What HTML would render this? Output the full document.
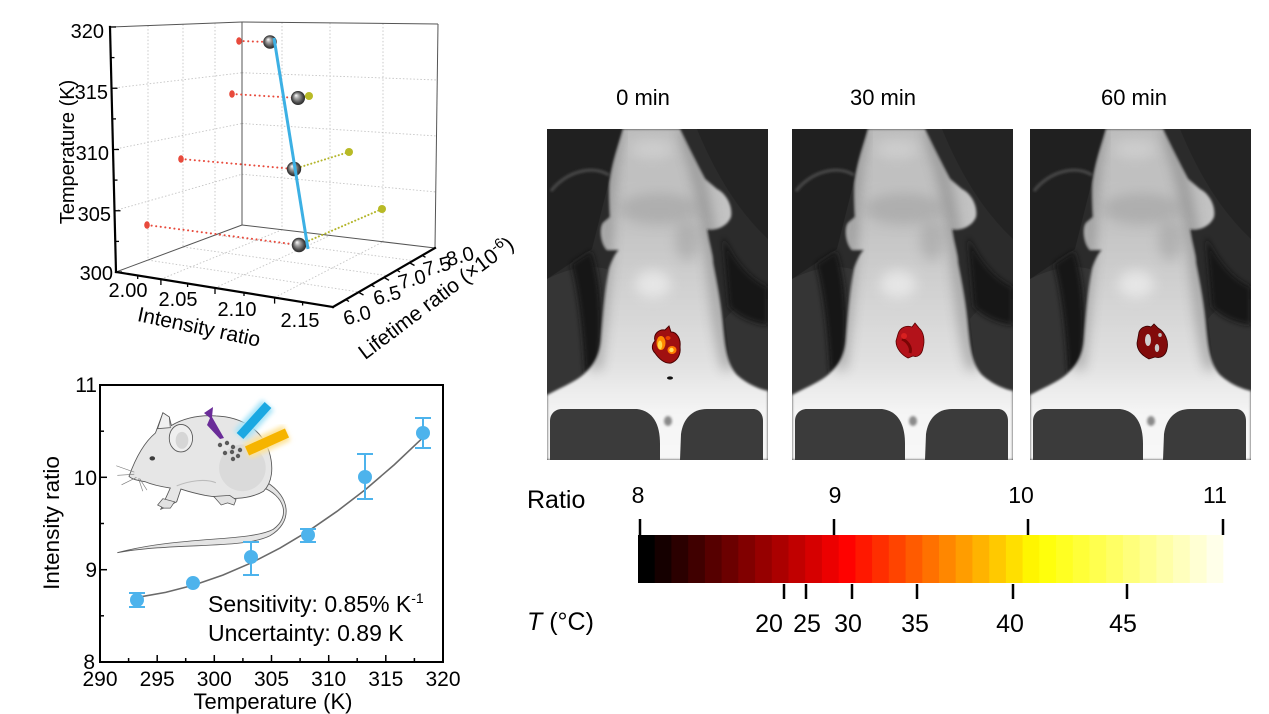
<!DOCTYPE html>
<html><head><meta charset="utf-8">
<style>
html,body{margin:0;padding:0;background:#fff;}
svg{display:block;font-family:"Liberation Sans",Arial,sans-serif;}
</style></head><body>
<svg width="1269" height="714" viewBox="0 0 1269 714" xmlns="http://www.w3.org/2000/svg">
<defs>
 <radialGradient id="sph" cx="0.5" cy="0.5" r="0.5" fx="0.35" fy="0.3">
  <stop offset="0" stop-color="#ffffff"/>
  <stop offset="0.35" stop-color="#a4a4a4"/>
  <stop offset="0.8" stop-color="#474747"/>
  <stop offset="1" stop-color="#2a2a2a"/>
 </radialGradient>
 <linearGradient id="bodyg" x1="0" y1="0" x2="0" y2="1">
  <stop offset="0" stop-color="#bdbdbd"/>
  <stop offset="0.3" stop-color="#c4c4c4"/>
  <stop offset="0.5" stop-color="#d2d2d2"/>
  <stop offset="0.72" stop-color="#e2e2e2"/>
  <stop offset="0.85" stop-color="#f4f4f4"/>
  <stop offset="1" stop-color="#f8f8f8"/>
 </linearGradient>
 <filter id="b1" x="-20%" y="-20%" width="140%" height="140%"><feGaussianBlur stdDeviation="1.3"/></filter>
 <filter id="b3" x="-50%" y="-50%" width="200%" height="200%"><feGaussianBlur stdDeviation="3"/></filter>
 <filter id="b6" x="-50%" y="-50%" width="200%" height="200%"><feGaussianBlur stdDeviation="6"/></filter>
 <filter id="glow" x="-50%" y="-50%" width="200%" height="200%"><feGaussianBlur stdDeviation="2.5"/></filter>
 <clipPath id="pc"><rect x="0" y="0" width="221" height="331"/></clipPath>
 <clipPath id="bodyclip"><path d="M76,0 L133,0 C140,15 150,35 158,50 L170,60 C180,65 186,78 184,88 C180,98 168,102 160,100 C162,115 166,125 166,134 C170,155 174,175 176,200 C178,220 180,235 190,246 C200,255 212,260 221,262 L221,331 L0,331 L0,266 C15,258 30,252 38,244 C48,235 53,225 54,210 C56,185 58,160 62,140 C66,128 70,122 72,121 L60,121 C54,115 52,100 56,94 L63,88 C62,70 62,55 63,51 C66,30 72,15 76,0 Z"/></clipPath>
 <g id="photo" clip-path="url(#pc)">
  <rect x="0" y="0" width="221" height="331" fill="#2b2b2b"/>
  <path d="M0,0 H75 C65,40 55,80 45,120 L0,150 Z" fill="#202020"/>
  <path d="M4,62 C20,42 45,36 62,46" stroke="#4a4a4a" stroke-width="3" fill="none" filter="url(#b1)"/>
  <path d="M150,0 H221 V110 C200,90 175,60 150,0 Z" fill="#232323"/>
  <path d="M0,150 C20,140 40,135 60,140 L55,250 L0,270 Z" fill="#353535"/>
  <path d="M221,170 C200,170 185,180 178,190 L185,250 L221,262 Z" fill="#333"/>
  <path d="M44,122 C54,150 56,190 52,238 L38,246 C36,205 32,165 24,135 Z" fill="#161616" filter="url(#b3)"/>
  <path d="M176,108 C188,132 202,150 221,158 V196 C205,194 192,188 182,178 Z" fill="#181818" filter="url(#b3)"/>
  <g filter="url(#b1)">
   <path d="M76,0 L133,0 C140,15 150,35 158,50 L170,60 C180,65 186,78 184,88 C180,98 168,102 160,100 C162,115 166,125 166,134 C170,155 174,175 176,200 C178,220 180,235 190,246 C200,255 212,260 221,262 L221,331 L0,331 L0,266 C15,258 30,252 38,244 C48,235 53,225 54,210 C56,185 58,160 62,140 C66,128 70,122 72,121 L60,121 C54,115 52,100 56,94 L63,88 C62,70 62,55 63,51 C66,30 72,15 76,0 Z" fill="url(#bodyg)"/>
  </g>
  <g clip-path="url(#bodyclip)">
   <path d="M70,0 C62,40 60,90 58,130 C55,170 52,210 48,240" stroke="#666" stroke-width="12" fill="none" opacity="0.45" filter="url(#b6)"/>
   <path d="M138,0 C150,40 162,90 166,134 C170,175 174,215 182,240" stroke="#666" stroke-width="12" fill="none" opacity="0.45" filter="url(#b6)"/>
  </g>
  <ellipse cx="112" cy="80" rx="40" ry="16" fill="#8a8a8a" opacity="0.35" filter="url(#b6)"/>
  <ellipse cx="140" cy="112" rx="12" ry="20" fill="#808080" opacity="0.3" filter="url(#b6)"/>
  <ellipse cx="105" cy="20" rx="22" ry="10" fill="#dcdcdc" opacity="0.5" filter="url(#b6)"/>
  <ellipse cx="106" cy="155" rx="18" ry="14" fill="#f4f4f4" opacity="0.6" filter="url(#b6)"/>
  <path d="M3,331 L3,292 C3,285 8,280 15,280 L90,280 C106,282 113,295 113,315 L113,331 Z" fill="#3b3b3b"/>
  <path d="M133,331 L134,305 C136,290 145,280 160,280 L206,280 C212,280 216,285 216,292 L216,331 Z" fill="#3b3b3b"/>
  <ellipse cx="121" cy="292" rx="4" ry="5" fill="#8a8a8a" filter="url(#b1)"/>
 </g>
</defs>

<!-- ================= 3D PLOT ================= -->
<g fill="none" stroke="#c4c4c4" stroke-width="0.9" stroke-dasharray="1.5 2">
 <line x1="148" y1="25.6" x2="148" y2="260"/>
 <line x1="183" y1="24.2" x2="183" y2="247"/>
 <line x1="215" y1="23" x2="215" y2="235"/>
 <line x1="114.5" y1="210.75" x2="242" y2="174.25"/>
 <line x1="113" y1="149.5" x2="242" y2="123.5"/>
 <line x1="111.5" y1="88.25" x2="242" y2="72.75"/>
 <line x1="282" y1="22.4" x2="282" y2="229.8"/>
 <line x1="330" y1="22.9" x2="330" y2="235.5"/>
 <line x1="383" y1="23.4" x2="383" y2="241.8"/>
 <line x1="242" y1="174.25" x2="436.5" y2="192"/>
 <line x1="242" y1="123.5" x2="437" y2="136"/>
 <line x1="242" y1="72.75" x2="437.5" y2="80"/>
 <line x1="148" y1="260.1" x2="358.9" y2="292"/>
 <line x1="183" y1="247" x2="387.3" y2="275.6"/>
 <line x1="215" y1="235" x2="413.2" y2="260.6"/>
 <line x1="160.9" y1="279.2" x2="282" y2="229.8"/>
 <line x1="215" y1="288" x2="330" y2="235.5"/>
 <line x1="274.6" y1="297.6" x2="383" y2="241.8"/>
</g>
<g stroke="#555" stroke-width="1" fill="none">
 <line x1="110" y1="27" x2="242" y2="22"/>
 <line x1="242" y1="22" x2="438" y2="24"/>
 <line x1="242" y1="22" x2="242" y2="225"/>
 <line x1="438" y1="24" x2="435" y2="248"/>
 <line x1="116" y1="272" x2="242" y2="225"/>
 <line x1="242" y1="225" x2="435" y2="248"/>
</g>
<g stroke="#000" stroke-width="2.2" fill="none" stroke-linecap="square">
 <line x1="110" y1="27" x2="116" y2="272"/>
 <line x1="116" y1="272" x2="333" y2="307"/>
 <line x1="333" y1="307" x2="435" y2="248"/>
</g>
<g stroke="#000" stroke-width="1.3">
 <line x1="116" y1="272" x2="122" y2="272"/>
 <line x1="115.25" y1="241.4" x2="119" y2="241.4"/>
 <line x1="114.5" y1="210.75" x2="120.5" y2="210.75"/>
 <line x1="113.75" y1="180.1" x2="117.5" y2="180.1"/>
 <line x1="113" y1="149.5" x2="119" y2="149.5"/>
 <line x1="112.25" y1="118.9" x2="116" y2="118.9"/>
 <line x1="111.5" y1="88.25" x2="117.5" y2="88.25"/>
 <line x1="110.75" y1="57.6" x2="114.5" y2="57.6"/>
 <line x1="110" y1="27" x2="116" y2="27"/>
 <line x1="160.9" y1="279.2" x2="160.9" y2="285"/>
 <line x1="215" y1="288" x2="215" y2="294"/>
 <line x1="274.6" y1="297.6" x2="274.6" y2="303.6"/>
 <line x1="137.7" y1="275.5" x2="137.7" y2="279"/>
 <line x1="187.6" y1="283.6" x2="187.6" y2="287"/>
 <line x1="244" y1="292.6" x2="244" y2="296"/>
 <line x1="302.6" y1="302.1" x2="302.6" y2="305.5"/>
 <line x1="345.75" y1="299.6" x2="349" y2="301.5"/>
 <line x1="358.5" y1="292.25" x2="363.5" y2="295"/>
 <line x1="371.25" y1="284.9" x2="374.5" y2="286.8"/>
 <line x1="384" y1="277.5" x2="389" y2="280.3"/>
 <line x1="396.75" y1="270.1" x2="400" y2="272"/>
 <line x1="409.5" y1="262.75" x2="414.5" y2="265.5"/>
 <line x1="422.25" y1="255.4" x2="425.5" y2="257.3"/>
</g>
<!-- projections -->
<g fill="none" stroke="#e84a3c" stroke-width="2" stroke-dasharray="0.1 4.5" stroke-linecap="round">
 <line x1="239" y1="41" x2="270" y2="42"/>
 <line x1="232" y1="94" x2="298" y2="98"/>
 <line x1="181" y1="159" x2="294" y2="169"/>
 <line x1="147" y1="225" x2="299" y2="245"/>
</g>
<g fill="none" stroke="#b3b52a" stroke-width="2" stroke-dasharray="0.1 3.5" stroke-linecap="round">
 <line x1="298" y1="98" x2="308" y2="96"/>
 <line x1="294" y1="169" x2="349" y2="152"/>
 <line x1="299" y1="245" x2="382" y2="209"/>
</g>
<g fill="#e84a3c">
 <ellipse cx="239" cy="41" rx="2.8" ry="3.8"/>
 <ellipse cx="232" cy="94" rx="2.8" ry="3.8"/>
 <ellipse cx="181" cy="159" rx="2.8" ry="3.8"/>
 <ellipse cx="147" cy="225" rx="2.8" ry="3.8"/>
</g>
<g fill="#b8ba26">
 <circle cx="309" cy="96" r="4"/>
 <circle cx="349" cy="152" r="4"/>
 <circle cx="382" cy="209" r="4"/>
</g>
<g fill="url(#sph)">
 <circle cx="270" cy="42" r="6.8"/>
 <circle cx="298" cy="98" r="7"/>
 <circle cx="294" cy="169" r="7.2"/>
 <circle cx="299" cy="245" r="7.2"/>
</g>
<line x1="274" y1="38" x2="308" y2="249" stroke="#3cb0e4" stroke-width="3"/>

<g font-size="20" fill="#000" text-anchor="end">
 <text x="104" y="38">320</text>
 <text x="108" y="99">315</text>
 <text x="109" y="160">310</text>
 <text x="111" y="221">305</text>
 <text x="113" y="280">300</text>
</g>
<text transform="translate(67,152) rotate(-90)" y="7" font-size="20" text-anchor="middle">Temperature (K)</text>
<g font-size="20" text-anchor="middle">
 <text x="128" y="297">2.00</text>
 <text x="178" y="306">2.05</text>
 <text x="237" y="316">2.10</text>
 <text x="300" y="327">2.15</text>
</g>
<text transform="translate(199,327) rotate(12)" y="7" font-size="21" text-anchor="middle">Intensity ratio</text>
<g font-size="20" text-anchor="middle">
 <text transform="translate(357,315) rotate(-15)" y="7">6.0</text>
 <text transform="translate(387,295) rotate(-15)" y="7">6.5</text>
 <text transform="translate(412,279) rotate(-15)" y="7">7.0</text>
 <text transform="translate(437,266) rotate(-15)" y="7">7.5</text>
 <text transform="translate(460,256) rotate(-15)" y="7">8.0</text>
</g>
<text transform="translate(436,298) rotate(-37)" y="7" font-size="21" text-anchor="middle">Lifetime ratio (×10<tspan dy="-8" font-size="14">-6</tspan><tspan dy="8">)</tspan></text>

<!-- ================= 2D PLOT ================= -->
<g transform="translate(200,470) scale(1.06) translate(-200,-470)">
 <path d="M258,486 C280,494 286,514 269,526 C246,538 182,532 122,548 C178,538 240,545 266,532 C287,520 287,496 262,481 Z" fill="#e4e4e4" stroke="#5a5a5a" stroke-width="0.8"/>
 <path d="M133,476 C138,462 146,445 158,435 L165,416 L171,420 L173,428 C185,421 200,418 215,419 C240,420 258,432 265,452 C270,468 268,482 260,490 C250,496 238,497 225,497 L205,494 C195,492 188,490 182,488 L178,500 L168,505 L163,507 L167,498 L172,487 C165,486 155,484 148,481 C142,480 136,479 133,476 Z" fill="#e6e6e6" stroke="#555" stroke-width="0.8"/>
 <ellipse cx="240" cy="468" rx="22" ry="22" fill="#dadada"/>
 <path d="M178,485 C190,480 205,478 215,482" stroke="#bbb" stroke-width="1" fill="none"/>
 <path d="M160,431 L165,416 L171,420 L172,430 Z" fill="#f0f0f0" stroke="#555" stroke-width="0.7"/>
 <ellipse cx="182" cy="440" rx="11" ry="13" fill="#efefef" stroke="#555" stroke-width="0.8"/>
 <ellipse cx="183" cy="442" rx="6" ry="8" fill="#d6d6d6"/>
 <ellipse cx="155" cy="459" rx="2.6" ry="2" fill="#3d3d3d"/>
 <path d="M213,495 L220,503 L226,501 L232,503 L234,498 L228,494 Z" fill="#e2e2e2" stroke="#555" stroke-width="0.7"/>
 <path d="M165,497 L160,503 L166,506 L172,506 L176,500 Z" fill="#e2e2e2" stroke="#555" stroke-width="0.7"/>
 <g stroke="#777" stroke-width="0.6">
  <line x1="138" y1="472" x2="121" y2="466"/>
  <line x1="138" y1="474" x2="122" y2="475"/>
  <line x1="140" y1="477" x2="126" y2="484"/>
  <line x1="142" y1="478" x2="146" y2="490"/>
  <line x1="143" y1="478" x2="150" y2="489"/>
 </g>
</g>
<g>
 <line x1="240" y1="436" x2="268" y2="405" stroke="#a8e4f8" stroke-width="16" filter="url(#glow)"/>
 <line x1="240" y1="436" x2="268" y2="405" stroke="#1aa8e2" stroke-width="9"/>
 <line x1="247" y1="451" x2="287" y2="433" stroke="#fde39a" stroke-width="17" filter="url(#glow)"/>
 <line x1="247" y1="451" x2="287" y2="433" stroke="#f6b400" stroke-width="10"/>
 <polygon points="204,413 213,407 212,417 224,438 220,439 207,425 210,418" fill="#6a2c98"/>
 <g fill="#5a5a5a">
  <circle cx="220" cy="445" r="2.2"/><circle cx="227" cy="443" r="2.2"/>
  <circle cx="233" cy="447" r="2.2"/><circle cx="240" cy="450" r="2.2"/>
  <circle cx="225" cy="453" r="2.2"/><circle cx="232" cy="452" r="2.2"/>
  <circle cx="238" cy="456" r="2.2"/><circle cx="233" cy="459" r="2.2"/>
 </g>
</g>
<rect x="100" y="385" width="343" height="277" fill="none" stroke="#000" stroke-width="2"/>
<g stroke="#000" stroke-width="1.5">
 <line x1="100" y1="477.3" x2="107" y2="477.3"/>
 <line x1="100" y1="569.7" x2="107" y2="569.7"/>
 <line x1="100" y1="431.2" x2="104" y2="431.2"/>
 <line x1="100" y1="523.5" x2="104" y2="523.5"/>
 <line x1="100" y1="615.8" x2="104" y2="615.8"/>
 <line x1="157.2" y1="662" x2="157.2" y2="655"/>
 <line x1="214.3" y1="662" x2="214.3" y2="655"/>
 <line x1="271.5" y1="662" x2="271.5" y2="655"/>
 <line x1="328.7" y1="662" x2="328.7" y2="655"/>
 <line x1="385.8" y1="662" x2="385.8" y2="655"/>
 <line x1="128.6" y1="662" x2="128.6" y2="658"/>
 <line x1="185.7" y1="662" x2="185.7" y2="658"/>
 <line x1="242.9" y1="662" x2="242.9" y2="658"/>
 <line x1="300.1" y1="662" x2="300.1" y2="658"/>
 <line x1="357.2" y1="662" x2="357.2" y2="658"/>
 <line x1="414.4" y1="662" x2="414.4" y2="658"/>
</g>
<polyline points="137,597.4 165.6,592.4 194.2,585 222.8,575.1 251.4,562.8 280,548.1 308.6,530.9 337.2,511.2 365.8,489.2 394.4,464.6 423,437.6" fill="none" stroke="#6a6a6a" stroke-width="1.6"/>
<g stroke="#4db3ec" stroke-width="2" fill="none">
 <path d="M137,593 V607 M129,593 H145 M129,607 H145"/>
 <path d="M251,542 V575 M243,542 H259 M243,575 H259"/>
 <path d="M308,529 V542 M300,529 H316 M300,542 H316"/>
 <path d="M365,454 V499 M357,454 H373 M357,499 H373"/>
 <path d="M423,418 V448 M415,418 H431 M415,448 H431"/>
</g>
<g fill="#4db3ec">
 <circle cx="137" cy="600" r="7"/>
 <circle cx="193" cy="583" r="7"/>
 <circle cx="251" cy="557" r="7"/>
 <circle cx="308" cy="535" r="7"/>
 <circle cx="365" cy="477" r="7"/>
 <circle cx="423" cy="433" r="7"/>
</g>
<g font-size="21" text-anchor="end">
 <text x="97" y="392">11</text>
 <text x="97" y="485">10</text>
 <text x="97" y="577">9</text>
 <text x="95" y="669">8</text>
</g>
<g font-size="21" text-anchor="middle">
 <text x="100" y="686">290</text>
 <text x="157.2" y="686">295</text>
 <text x="214.3" y="686">300</text>
 <text x="271.5" y="686">305</text>
 <text x="328.7" y="686">310</text>
 <text x="385.8" y="686">315</text>
 <text x="443" y="686">320</text>
</g>
<text x="273" y="709" font-size="22" text-anchor="middle">Temperature (K)</text>
<text transform="translate(59,523) rotate(-90)" font-size="22.5" text-anchor="middle">Intensity ratio</text>
<text x="208" y="612" font-size="23">Sensitivity: 0.85% K<tspan dy="-9" font-size="14">-1</tspan></text>
<text x="208" y="641" font-size="23">Uncertainty: 0.89 K</text>

<!-- ================= PHOTOS ================= -->
<g font-size="22" text-anchor="middle">
 <text x="643" y="105">0 min</text>
 <text x="883" y="105">30 min</text>
 <text x="1134" y="105">60 min</text>
</g>
<use href="#photo" x="547" y="129"/>
<use href="#photo" x="792" y="129"/>
<use href="#photo" x="1030" y="129"/>
<!-- hotspot 0 min -->
<g transform="translate(547,129)">
 <path d="M108,212 C106,205 112,200 118,201 L122,197 L124,203 C130,203 134,210 133,218 C134,226 130,232 124,234 C118,235 112,230 108,224 C104,220 105,215 108,212 Z" fill="#a01010" stroke="#4a0000" stroke-width="1"/>
 <ellipse cx="114" cy="214" rx="4.5" ry="7" fill="#ff8a00"/>
 <ellipse cx="113" cy="216" rx="2.2" ry="4.5" fill="#ffd84a"/>
 <ellipse cx="125" cy="221" rx="4.5" ry="4" fill="#ff7a00"/>
 <ellipse cx="124.5" cy="221" rx="2.2" ry="2.2" fill="#ffe060"/>
 <ellipse cx="121" cy="209" rx="2.5" ry="2" fill="#e84000"/>
 <ellipse cx="123" cy="249" rx="3" ry="1.6" fill="#111"/>
</g>
<!-- hotspot 30 min -->
<g transform="translate(792,129)">
 <path d="M106,205 C108,198 115,196 120,198 L123,194 L127,199 C132,203 133,212 131,219 C130,225 126,229 121,227 L116,229 C110,226 104,220 104,212 Z" fill="#b3121a" stroke="#5a0000" stroke-width="0.8"/>
 <path d="M110,210 C115,212 120,218 118,224" stroke="#7a0505" stroke-width="3" fill="none"/>
 <ellipse cx="112" cy="207" rx="3" ry="3" fill="#d82020"/>
</g>
<!-- hotspot 60 min -->
<g transform="translate(1030,129)">
 <path d="M109,203 C111,198 117,196 121,198 L124,195 L128,199 C135,203 139,212 137,220 C136,226 131,230 125,228 L119,230 C113,227 107,222 107,214 Z" fill="#820b0b" stroke="#3a0000" stroke-width="0.8"/>
 <ellipse cx="118" cy="211" rx="3" ry="6" fill="#d0d0d0"/>
 <ellipse cx="127" cy="219" rx="2.2" ry="4" fill="#c8c8c8"/>
 <ellipse cx="130" cy="206" rx="1.8" ry="2" fill="#bbb"/>
</g>

<!-- ================= COLORBAR ================= -->
<text x="527" y="508" font-size="25">Ratio</text>
<g font-size="23" text-anchor="middle">
 <text x="638" y="503">8</text>
 <text x="835" y="503">9</text>
 <text x="1021" y="503">10</text>
 <text x="1215" y="503">11</text>
</g>
<g stroke="#000" stroke-width="2.5">
 <line x1="640" y1="519" x2="640" y2="535"/>
 <line x1="834" y1="519" x2="834" y2="535"/>
 <line x1="1028" y1="519" x2="1028" y2="535"/>
 <line x1="1223" y1="519" x2="1223" y2="535"/>
 <line x1="784" y1="584" x2="784" y2="599"/>
 <line x1="806" y1="584" x2="806" y2="599"/>
 <line x1="852" y1="584" x2="852" y2="599"/>
 <line x1="917" y1="584" x2="917" y2="599"/>
 <line x1="1013" y1="584" x2="1013" y2="599"/>
 <line x1="1127" y1="584" x2="1127" y2="599"/>
</g>
<g>
 <rect x="638" y="535" width="17.2" height="48" fill="#000000"/>
 <rect x="654.7" y="535" width="17.2" height="48" fill="#150000"/>
 <rect x="671.4" y="535" width="17.2" height="48" fill="#2b0000"/>
 <rect x="688.2" y="535" width="17.2" height="48" fill="#400000"/>
 <rect x="704.9" y="535" width="17.2" height="48" fill="#560000"/>
 <rect x="721.6" y="535" width="17.2" height="48" fill="#6b0000"/>
 <rect x="738.3" y="535" width="17.2" height="48" fill="#810000"/>
 <rect x="755.1" y="535" width="17.2" height="48" fill="#960000"/>
 <rect x="771.8" y="535" width="17.2" height="48" fill="#ab0000"/>
 <rect x="788.5" y="535" width="17.2" height="48" fill="#c10000"/>
 <rect x="805.2" y="535" width="17.2" height="48" fill="#d60000"/>
 <rect x="821.9" y="535" width="17.2" height="48" fill="#ec0000"/>
 <rect x="838.7" y="535" width="17.2" height="48" fill="#ff0200"/>
 <rect x="855.4" y="535" width="17.2" height="48" fill="#ff1800"/>
 <rect x="872.1" y="535" width="17.2" height="48" fill="#ff2e00"/>
 <rect x="888.8" y="535" width="17.2" height="48" fill="#ff4400"/>
 <rect x="905.6" y="535" width="17.2" height="48" fill="#ff5b00"/>
 <rect x="922.3" y="535" width="17.2" height="48" fill="#ff7100"/>
 <rect x="939.0" y="535" width="17.2" height="48" fill="#ff8700"/>
 <rect x="955.7" y="535" width="17.2" height="48" fill="#ff9d00"/>
 <rect x="972.4" y="535" width="17.2" height="48" fill="#ffb300"/>
 <rect x="989.2" y="535" width="17.2" height="48" fill="#ffc900"/>
 <rect x="1005.9" y="535" width="17.2" height="48" fill="#ffdf00"/>
 <rect x="1022.6" y="535" width="17.2" height="48" fill="#fff500"/>
 <rect x="1039.3" y="535" width="17.2" height="48" fill="#ffff0c"/>
 <rect x="1056.1" y="535" width="17.2" height="48" fill="#ffff22"/>
 <rect x="1072.8" y="535" width="17.2" height="48" fill="#ffff38"/>
 <rect x="1089.5" y="535" width="17.2" height="48" fill="#ffff4e"/>
 <rect x="1106.2" y="535" width="17.2" height="48" fill="#ffff64"/>
 <rect x="1122.9" y="535" width="17.2" height="48" fill="#ffff7b"/>
 <rect x="1139.7" y="535" width="17.2" height="48" fill="#ffff91"/>
 <rect x="1156.4" y="535" width="17.2" height="48" fill="#ffffa7"/>
 <rect x="1173.1" y="535" width="17.2" height="48" fill="#ffffbd"/>
 <rect x="1189.8" y="535" width="17.2" height="48" fill="#ffffd3"/>
 <rect x="1206.6" y="535" width="17.2" height="48" fill="#ffffe9"/>
 <rect x="1223.3" y="535" width="16.7" height="48" fill="#ffffff"/>
</g>
<g font-size="25" text-anchor="middle">
 <text x="769" y="632">20</text>
 <text x="807" y="632">25</text>
 <text x="848" y="632">30</text>
 <text x="915" y="632">35</text>
 <text x="1010" y="632">40</text>
 <text x="1123" y="632">45</text>
</g>
<text x="527" y="630" font-size="25"><tspan font-style="italic">T</tspan> (°C)</text>
</svg>
</body></html>
